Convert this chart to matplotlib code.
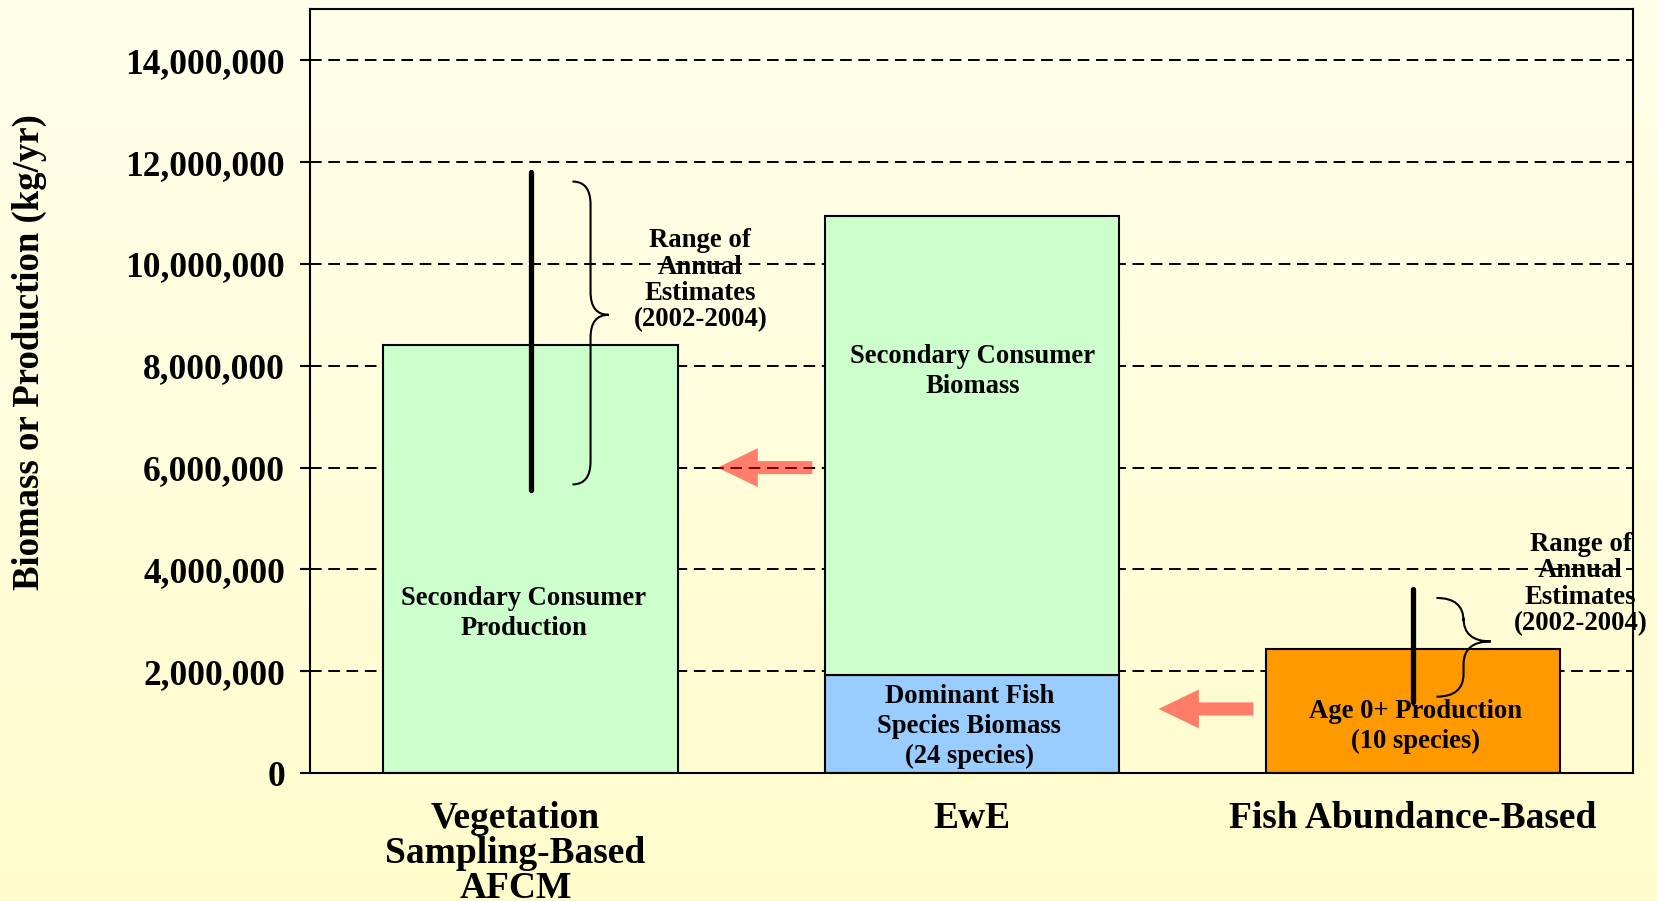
import numpy as np
import matplotlib
matplotlib.use("Agg")
import matplotlib.pyplot as plt
from matplotlib.patches import FancyArrowPatch, ArrowStyle, PathPatch
from matplotlib.path import Path
from matplotlib.transforms import ScaledTranslation

# ---- data ----
categories = ["Vegetation\nSampling-Based\nAFCM", "EwE", "Fish Abundance-Based"]
base_values = [8.40e6, 1.92e6, 2.43e6]          # lower bar segment
base_colors = ["#CCFFCC", "#99CCFF", "#FF9900"]
base_labels = ["Secondary Consumer\nProduction",
               "Dominant Fish\nSpecies Biomass\n(24 species)",
               "Age 0+ Production\n(10 species)"]
ewe_secondary_biomass = 9.03e6                  # stacked on top of EwE fish biomass
ewe_secondary_label = "Secondary Consumer\nBiomass"

range_bars = [0, 2]
range_low = [5.57e6, 1.40e6]
range_high = [11.80e6, 3.62e6]
range_text = "Range of\nAnnual\nEstimates\n(2002-2004)"

arrow_levels = [6.0e6, 1.26e6]   # arrows pointing left from EwE / fish bars

yticks = [0, 2e6, 4e6, 6e6, 8e6, 10e6, 12e6, 14e6]

# ---- style ----
plt.rcParams["font.family"] = ["Liberation Serif", "DejaVu Serif"]
plt.rcParams["font.weight"] = "bold"

fig = plt.figure(figsize=(16.58, 9.01), dpi=100)

# pale yellow gradient background
bg = fig.add_axes([0, 0, 1, 1], zorder=-10)
top = np.array([255, 255, 234]) / 255
bot = np.array([255, 252, 204]) / 255
t = np.linspace(0, 1, 256)[:, None]
grad = (top * (1 - t) + bot * t)[:, None, :]
bg.imshow(grad, aspect="auto", extent=[0, 1, 0, 1])
bg.axis("off")

ax = fig.add_axes([0.187, 0.142, 0.798, 0.8475])
ax.patch.set_alpha(0)
ax.set_xlim(-0.5, 2.5)
ax.set_ylim(0, 15e6)

x = np.arange(len(categories))
width = 0.667

ax.bar(x, base_values, width, color=base_colors, edgecolor="black", linewidth=1.5, zorder=1)
ax.bar(x[1], ewe_secondary_biomass, width, bottom=base_values[1],
       color="#CCFFCC", edgecolor="black", linewidth=1.5, zorder=1)

# grid + ticks
ax.set_axisbelow(True)
ax.yaxis.grid(True, color="black", linestyle=(0, (6, 3.4)), linewidth=1.4)
ax.set_yticks(yticks)
ax.set_yticklabels([f"{int(v):,}" for v in yticks])
ax.tick_params(axis="y", direction="out", length=7, width=1.5, labelsize=25.5, pad=11)
ax.set_xticks(x)
ax.set_xticklabels(categories, fontsize=27, linespacing=1.0)
ax.tick_params(axis="x", length=0, pad=20)
# first category label sits a little left of its bar in the original
lbl0 = ax.get_xticklabels()[0]
lbl0.set_transform(lbl0.get_transform() + ScaledTranslation(-0.15, 0, fig.dpi_scale_trans))
for s in ax.spines.values():
    s.set_linewidth(1.5)

fig.text(0.018, 0.609, "Biomass or Production (kg/yr)", rotation=90,
         ha="center", va="center", fontsize=26.5)

# text inside bars
bar_txt = dict(ha="center", va="center", fontsize=19.2, linespacing=1.27, zorder=5)
ax.text(x[0] - 0.015, 3.14e6, base_labels[0], **bar_txt)
ax.text(x[1] - 0.005, 0.92e6, base_labels[1], **bar_txt)
ax.text(x[2] + 0.007, 0.92e6, base_labels[2], **bar_txt)
ax.text(x[1] + 0.002, 7.89e6, ewe_secondary_label, **bar_txt)


def brace(ax, x0, x2, lo, hi, tip_frac=0.56):
    x1 = (x0 + x2) / 2
    r = 0.45e6
    mid = lo + (hi - lo) * tip_frac
    verts = [(x0, hi), (x1, hi), (x1, hi - r),
             (x1, mid + r),
             (x1, mid), (x2, mid),
             (x1, mid), (x1, mid - r),
             (x1, lo + r),
             (x1, lo), (x0, lo)]
    codes = [Path.MOVETO, Path.CURVE3, Path.CURVE3,
             Path.LINETO,
             Path.CURVE3, Path.CURVE3,
             Path.CURVE3, Path.CURVE3,
             Path.LINETO,
             Path.CURVE3, Path.CURVE3]
    ax.add_patch(PathPatch(Path(verts, codes), fill=False, lw=1.5,
                           edgecolor="black", zorder=4))


# range of annual estimates
brace_start = [0.095, 0.054]
for i, lo, hi, b0 in zip(range_bars, range_low, range_high, brace_start):
    ax.plot([x[i], x[i]], [lo, hi], color="black", lw=3.8,
            solid_capstyle="round", zorder=4)
    brace(ax, x[i] + b0, x[i] + 0.177, lo + 0.1e6, hi - 0.18e6)

rng_txt = dict(ha="center", va="center", fontsize=19.3, linespacing=1.08, zorder=0.3)
ax.text(x[0] + 0.385, 9.68e6, range_text, **rng_txt)
ax.text(x[2] + 0.381, 3.71e6, range_text, clip_on=False, **rng_txt)

# arrows
style = ArrowStyle.Simple(head_length=29, head_width=28, tail_width=9.4)
for i, lvl in zip([1, 2], arrow_levels):
    arr = FancyArrowPatch((x[i] - 0.361, lvl), (x[i] - 0.576, lvl),
                          arrowstyle=style, mutation_scale=1,
                          color="red", alpha=0.5, lw=0, zorder=2,
                          shrinkA=0, shrinkB=0)
    ax.add_patch(arr)

fig.savefig("out.png", dpi=100)
